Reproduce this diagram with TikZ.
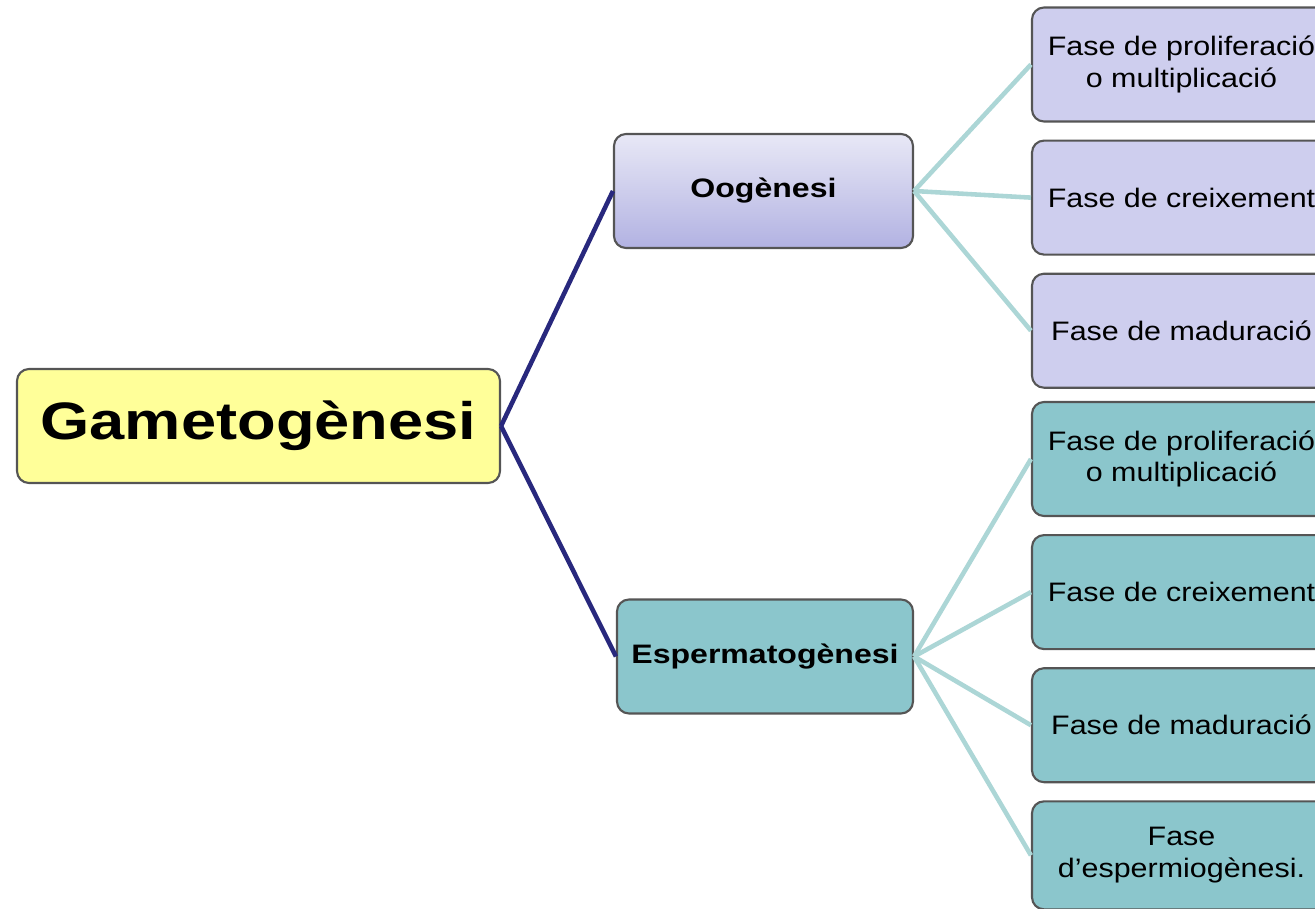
\documentclass[tikz,border=0pt]{standalone}
\usepackage{fontspec}
\setmainfont{Liberation Sans}[FakeStretch=1.2]
\newfontfamily\phasefont{Liberation Sans}[FakeStretch=1.14]
\definecolor{RootYellow}{RGB}{255,255,153}
\definecolor{OogTop}{RGB}{232,232,246}
\definecolor{OogBottom}{RGB}{178,178,226}
\definecolor{OogPhase}{RGB}{206,206,238}
\definecolor{SpermTeal}{RGB}{139,198,204}
\definecolor{EdgeNavy}{RGB}{40,40,125}
\definecolor{EdgeMint}{RGB}{172,214,214}
\definecolor{BoxLine}{RGB}{85,85,85}
\usetikzlibrary{positioning}

\tikzset{
  box/.style={draw=BoxLine,line width=0.6pt,rounded corners=0.12cm,minimum width=2.99cm,minimum height=1.14cm,inner sep=0pt,align=center},
  phase/.style={box,font=\phasefont\fontsize{7.6}{9}\selectfont},
  parent/.style={box,font=\fontsize{7.6}{9}\selectfont\bfseries},
  trunk/.style={draw=EdgeNavy,line width=1.3pt},
  twig/.style={draw=EdgeMint,line width=1.3pt}
}

\begin{document}
\begin{tikzpicture}[node distance=0.17cm]
  \useasboundingbox (0,0) rectangle (13.15,-9.09);
  \clip (0,0) rectangle (13.15,-9.09);
  % arrel
  \node[box,fill=RootYellow,minimum width=4.83cm,font=\fontsize{15}{18}\selectfont\bfseries] (gam) at (2.585,-4.26) {Gametogènesi};
  % branques
  \node[parent,top color=OogTop,bottom color=OogBottom] (oog) at (7.635,-1.91) {Oogènesi};
  \node[parent,fill=SpermTeal,minimum width=2.96cm] (esp) at (7.65,-6.565) {Espermatogènesi};
  % fases oogènesi
  \node[phase,fill=OogPhase] (o1) at (11.815,-0.645) {Fase de proliferació\\o multiplicació};
  \node[phase,fill=OogPhase,below=of o1] (o2) {Fase de creixement};
  \node[phase,fill=OogPhase,below=of o2] (o3) {Fase de maduració};
  % fases espermatogènesi
  \node[phase,fill=SpermTeal] (e1) at (11.815,-4.59) {Fase de proliferació\\o multiplicació};
  \node[phase,fill=SpermTeal,below=of e1] (e2) {Fase de creixement};
  \node[phase,fill=SpermTeal,below=of e2] (e3) {Fase de maduració};
  \node[phase,fill=SpermTeal,below=of e3,minimum height=1.08cm] (e4) {Fase\\d’espermiogènesi.};
  \draw[trunk] (gam.east) -- (oog.west);
  \draw[trunk] (gam.east) -- (esp.west);
  \draw[twig] (oog.east) -- (o1.west);
  \draw[twig] (oog.east) -- (o2.west);
  \draw[twig] (oog.east) -- (o3.west);
  \draw[twig] (esp.east) -- (e1.west);
  \draw[twig] (esp.east) -- (e2.west);
  \draw[twig] (esp.east) -- (e3.west);
  \draw[twig] (esp.east) -- (e4.west);
\end{tikzpicture}
\end{document}
